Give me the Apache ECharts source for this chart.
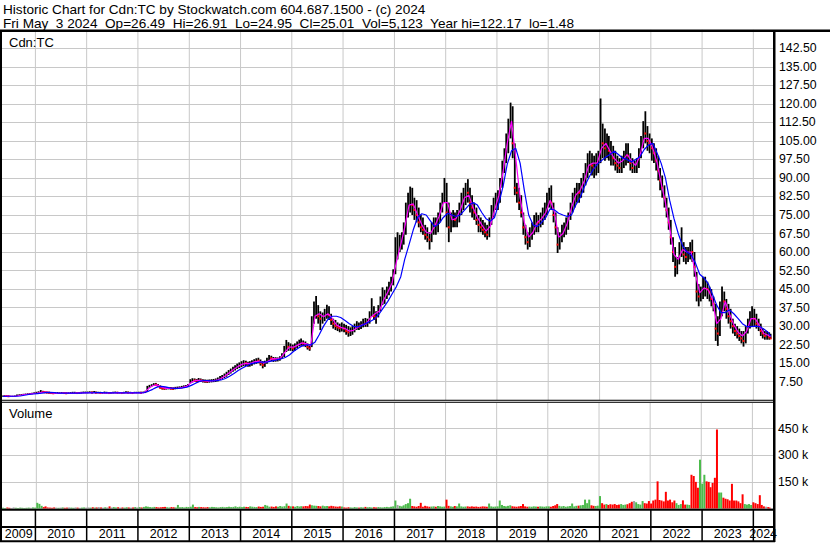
<!DOCTYPE html>
<html><head><meta charset="utf-8">
<script src="https://cdn.jsdelivr.net/npm/echarts@6/dist/echarts.min.js"></script>
<style>html,body{margin:0;padding:0;background:#fff}#c{width:830px;height:543px}</style>
</head><body><div id="c"></div>
<script>
// ---- Data: half-monthly bars (8th & 23rd of each month, May 2009 .. Apr 2024) + last day 2024-05-03
const priceHigh = [
/*2009*/ 1.9,2.0,2.0,1.9,1.8,1.8,1.9,2.3,2.4,2.5,2.6,2.7,2.8,2.9,3.0,3.2,
/*2010*/ 3.4,3.6,4.1,3.8,3.6,3.5,3.4,3.3,3.3,3.2,3.3,3.2,3.3,3.3,3.2,3.2,3.3,3.4,3.4,3.3,3.3,3.4,3.5,3.5,
/*2011*/ 3.5,3.6,3.5,3.7,3.5,3.4,3.4,3.3,3.5,3.4,3.3,3.3,3.4,3.5,3.4,3.3,3.3,3.4,3.6,3.5,3.4,3.3,3.4,3.4,
/*2012*/ 3.4,3.4,3.5,3.8,5.8,6.2,6.5,6.9,7.0,6.6,6.0,5.5,5.2,5.2,5.3,5.3,5.2,5.4,5.5,5.6,5.8,6.0,6.2,6.6,
/*2013*/ 8.5,8.9,8.8,8.6,9.0,8.8,8.5,8.4,8.3,8.4,8.5,8.6,8.8,9.2,9.8,10.2,10.8,11.5,12.2,12.8,13.5,14.2,14.8,15.3,
/*2014*/ 15.8,16.2,16.0,15.6,15.8,16.2,16.6,17.0,17.2,16.5,15.8,16.0,17.2,18.3,18.0,17.5,17.4,17.3,17.8,19.0,22.0,24.4,23.5,23.0,
/*2015*/ 22.5,23.0,23.8,24.5,25.0,24.2,23.8,23.0,22.5,34.0,40.0,42.2,38.5,36.0,35.5,37.0,38.6,38.0,35.0,33.0,32.5,31.5,31.0,31.5,
/*2016*/ 31.0,30.5,30.0,29.5,30.0,31.0,32.0,31.5,32.0,33.0,33.3,33.0,36.0,41.3,38.0,36.0,38.5,42.0,45.7,44.6,46.0,48.0,50.0,53.0,
/*2017*/ 66,68,67,68,72,80,84,86.5,86,82,81,78,75,74,71,70,68,72,74,74,76,80,84,90,
/*2018*/ 88,80,76,77,76,77,80,84,86,88,89.5,86,83,80,78,75,74,73,72,71,74,79,82,84,
/*2019*/ 85,90,97,102,108,114,120.5,119,104,88,86,83,76,71,68,70,72,75,76,75,76,78,80,84,
/*2020*/ 86,87,80,76,70,68,71,72,74,76,80,84,86,88,88,90,92,96,100,101,100,99,100,101,
/*2021*/ 122.17,112,110,108,107,105,103,101,99,98,99,101,104,104,100,98,97,98,102,107,113,117,111,108,
/*2022*/ 106,104,102,99,94,91,87,82,78,73,66,62,58,64,70,64,62,62,64,65,60,52,47,46,
/*2023*/ 50,50,48,46,45,42,39,34,40,46,44,41,39,37,33,31,30,29,28,28,30,33,36,38,
/*2024*/ 37,35,33,31,29,28,28,27.5, 26.91
];
const priceLow = [
/*2009*/ 1.5,1.5,1.5,1.5,1.5,1.48,1.5,1.7,1.9,2.0,2.1,2.2,2.2,2.3,2.4,2.5,
/*2010*/ 2.6,2.8,3.0,3.0,2.9,2.8,2.7,2.6,2.5,2.5,2.6,2.6,2.7,2.6,2.5,2.5,2.6,2.7,2.7,2.6,2.6,2.7,2.8,2.8,
/*2011*/ 2.8,2.9,2.8,2.9,2.8,2.7,2.6,2.6,2.7,2.7,2.6,2.6,2.7,2.8,2.8,2.7,2.7,2.7,2.8,2.8,2.7,2.7,2.8,2.8,
/*2012*/ 2.8,2.8,2.9,2.9,3.4,5.0,5.5,5.8,5.9,5.5,4.8,4.3,4.2,4.3,4.4,4.3,4.2,4.4,4.5,4.6,4.8,5.0,5.2,5.4,
/*2013*/ 6.8,7.2,7.4,7.3,7.4,7.4,7.2,7.1,7.0,7.1,7.2,7.3,7.4,7.6,8.2,8.6,9.0,9.5,10.2,10.8,11.5,12.0,12.6,13.0,
/*2014*/ 13.4,13.8,13.8,13.5,13.6,14.0,14.5,14.8,15.0,14.0,12.9,13.5,14.8,15.8,15.8,15.5,15.6,15.7,16.0,16.8,17.5,19.5,20.0,20.0,
/*2015*/ 19.8,20.0,21.0,21.8,22.0,21.8,21.5,20.5,20.0,21.5,31.0,33.0,31.0,28.4,31.0,32.0,33.0,32.5,30.5,29.0,28.4,28.0,27.5,27.8,
/*2016*/ 27.5,26.5,25.7,26.0,26.5,27.5,28.5,28.4,28.8,29.5,29.7,29.7,31.0,33.8,32.5,31.0,33.5,36.0,38.5,39.0,41.0,42.5,44.0,46.5,
/*2017*/ 51,57,60,61,63,67,74,76,75,73,72,70,68,67,65,64,61,64,67,67,68,72,76,80,
/*2018*/ 70,64,68,70,70,70,72,75,77,79,80,76,74,73,71,68,68,67,66,65,66,71,74,77,
/*2019*/ 77,80,86,92,96,100,106,98,83,80,77,74,67,63,61,62,65,67,68,68,70,71,73,75,
/*2020*/ 78,77,72,67,59.6,61,64,66,67,69,73,76,78,80,80,82,84,87,90,92,91,90,91,92,
/*2021*/ 96,98,97,98,97,95,95,93,92,92,92,94,95,96,93,92,92,92,94,98,102,104,101,100,
/*2022*/ 97,96,93,89,85,82,78,74,69,63,56,50,51,55,58,56,55,56,57,56,50,40,38,40,
/*2023*/ 41,42,41,40,38,36,24,22,26,34,36,33,31,29,27,26,25,24,23,21.7,23,27,29,30,
/*2024*/ 30,29,28,26,25,24.5,24.5,24.5, 24.95
];
const priceClose = [
/*2009*/ 1.6,1.8,1.7,1.6,1.6,1.6,1.7,2.1,2.2,2.3,2.4,2.5,2.6,2.6,2.7,2.9,
/*2010*/ 3.0,3.2,3.5,3.3,3.2,3.1,3.0,2.9,2.8,2.8,2.9,2.9,3.0,2.9,2.8,2.8,2.9,3.0,3.0,2.9,2.9,3.0,3.1,3.1,
/*2011*/ 3.1,3.2,3.1,3.2,3.0,3.0,2.9,2.9,3.0,3.0,2.9,2.9,3.0,3.1,3.0,3.0,2.9,3.0,3.1,3.0,3.0,2.9,3.0,3.0,
/*2012*/ 3.1,3.0,3.1,3.4,5.4,5.8,6.0,6.4,6.3,5.8,5.0,4.8,4.7,4.8,4.9,4.7,4.6,4.9,5.0,5.1,5.3,5.6,5.8,6.1,
/*2013*/ 7.8,8.2,8.0,7.9,8.2,8.0,7.8,7.7,7.6,7.8,7.9,8.0,8.1,8.6,9.2,9.6,10.1,10.8,11.6,12.2,12.8,13.5,14.0,14.4,
/*2014*/ 14.8,15.2,15.0,14.6,14.8,15.4,15.8,16.2,16.0,15.0,14.2,15.2,16.5,17.3,17.0,16.6,16.5,16.8,17.2,18.2,20.5,22.2,21.6,21.8,
/*2015*/ 21.0,21.8,22.6,23.4,23.6,23.0,22.5,21.5,21.0,32.0,36.5,37.0,34.0,33.0,33.5,35.0,36.0,34.5,32.5,31.0,30.0,29.5,29.2,29.6,
/*2016*/ 29.0,28.0,27.5,27.8,28.5,29.5,30.0,29.8,30.5,31.5,31.0,31.5,34.5,37.0,34.0,33.5,36.5,40.0,42.0,42.5,44.0,46.0,48.0,51.0,
/*2017*/ 62,62,64,65,70,78,80,82,79,77,75,72,70,69,67,66,65,70,72,71,74,78,82,86,
/*2018*/ 76,70,72,74,73,75,78,81,84,85,84,80,78,76,73,71,70,69,68,67,70,76,79,80,
/*2019*/ 82,88,94,99,104,112,116,104,86,84,80,76,70,66,64,67,70,72,73,72,74,75,77,80,
/*2020*/ 83,80,75,70,63,65,68,70,71,74,78,81,83,85,84,86,89,92,96,97,95,94,96,97,
/*2021*/ 108,104,102,104,101,100,98,96,95,94,96,98,100,99,96,94,94,95,99,104,110,108,105,104,
/*2022*/ 102,100,97,93,89,86,82,77,72,66,60,54,56,60,62,59,58,60,62,60,54,44,42,43,
/*2023*/ 46,47,45,44,41,39,29,27,35,41,40,37,34,32,30,28,27,26,25,24,27,30,33,34,
/*2024*/ 33,31,30,28,27,26,26,25.5, 25.01
];
// volume in thousands of shares
const volumeK = [
/*2009*/ 4,3,5,4,3,6,4,3,5,4,3,4,5,4,6,5,
/*2010*/ 32,26,15,8,12,6,5,4,6,5,4,5,6,4,5,6,5,4,6,5,4,5,6,5,
/*2011*/ 6,5,7,5,6,8,6,5,7,6,12,6,8,6,7,5,6,5,7,6,5,6,8,6,
/*2012*/ 8,6,9,12,10,8,7,9,8,6,7,8,9,7,6,8,7,6,20,7,8,6,9,8,
/*2013*/ 10,22,8,7,9,8,7,6,8,7,9,8,7,6,8,9,7,8,10,8,9,12,8,10,
/*2014*/ 8,10,9,8,12,10,9,8,11,9,10,20,16,10,11,9,12,10,14,11,13,28,15,12,
/*2015*/ 12,10,14,11,13,12,14,13,22,18,16,15,14,12,16,13,14,12,15,13,11,10,12,11,
/*2016*/ 6,5,7,6,5,8,6,5,7,6,9,7,8,6,7,6,8,7,6,8,9,7,10,12,
/*2017*/ 45,20,15,12,18,25,30,55,14,12,10,14,32,10,15,12,10,11,12,10,14,12,10,11,
/*2018*/ 50,15,12,10,14,12,28,12,10,11,12,10,12,10,11,9,10,12,11,10,28,12,10,11,
/*2019*/ 12,45,20,14,12,15,18,12,11,10,12,14,25,12,10,11,10,12,11,10,12,11,10,12,
/*2020*/ 12,10,14,18,25,15,12,14,10,12,14,28,12,15,16,18,20,50,30,50,18,15,14,16,
/*2021*/ 70,30,22,25,20,24,22,25,20,22,25,20,22,24,30,38,42,35,25,22,42,30,28,42,
/*2022*/ 28,45,50,153,48,45,40,94,45,50,35,45,30,20,25,46,22,22,20,190,183,150,117,275,
/*2023*/ 140,190,153,150,120,144,173,445,90,90,61,55,52,45,139,45,45,40,30,80,25,22,25,20,
/*2024*/ 35,30,25,75,20,12,10,8, 5.123
];
// moving averages, monthly readings (15th of each month, May 2009 .. Apr 2024) + 2024-05-03
const maShort = [
/*2009*/ 1.6,1.7,1.6,1.6,2.0,2.3,2.5,2.7,
/*2010*/ 2.9,3.2,3.3,3.1,2.9,2.8,2.9,2.9,2.8,2.9,3.0,3.0,
/*2011*/ 3.1,3.1,3.1,3.0,2.9,3.0,2.95,3.05,3.0,2.95,3.05,3.0,
/*2012*/ 3.0,3.1,4.6,5.9,6.2,5.4,4.8,4.8,4.8,4.9,5.2,5.7,
/*2013*/ 7.2,8.0,8.0,7.9,7.7,7.8,8.1,8.8,9.9,11.2,12.5,13.7,
/*2014*/ 14.6,14.9,14.9,15.6,15.8,15.0,15.8,16.8,16.7,17.2,19.6,21.5,
/*2015*/ 21.5,22.4,23.2,22.8,22.0,34.0,35.0,33.8,35.0,33.2,30.5,29.5,
/*2016*/ 29.0,28.0,28.3,29.5,30.5,31.0,33.5,35.0,36.0,40.5,43.8,47.5,
/*2017*/ 56,63,70,79,79.5,75,71,68,67.5,70.5,74.5,80,
/*2018*/ 80,73,73.5,77,82,83,78,74,71,68.5,70.5,77,
/*2019*/ 83,93,104,113,98,82,72,66,68,72,73.5,76,
/*2020*/ 81,76,66,67.5,71.5,78,83,85,89,95,96,96,
/*2021*/ 102,104,101,98,96,97,99.5,97,95,99,106,106,
/*2022*/ 102,96,88,80,70,59,57,61,60,60,51,43.5,
/*2023*/ 45.5,44.5,41,31,33,40,35,30.5,27.5,26,28,33,
/*2024*/ 33,30,27,26.3, 25.7
];
const maLong = [
/*2009*/ 1.5,1.6,1.6,1.6,1.7,2.0,2.3,2.5,
/*2010*/ 2.7,2.9,3.1,3.2,3.1,2.9,2.9,2.9,2.9,2.9,2.9,3.0,
/*2011*/ 3.0,3.0,3.1,3.1,3.0,3.0,3.0,3.0,3.0,3.0,3.0,3.0,
/*2012*/ 3.0,3.1,3.6,4.4,5.3,5.6,5.4,5.0,4.8,4.8,5.0,5.3,
/*2013*/ 6.0,6.9,7.6,7.9,7.9,7.8,7.9,8.2,8.8,9.7,10.8,12.0,
/*2014*/ 13.0,14.0,14.7,15.1,15.4,15.4,15.5,15.9,16.3,16.7,17.3,18.3,
/*2015*/ 19.8,21.0,22.0,22.4,22.4,23.5,26.5,30.0,32.7,34.0,34.0,33.5,
/*2016*/ 32.3,31.0,29.9,29.7,30.3,31.2,32.0,33.0,35.0,37.5,40.0,43.0,
/*2017*/ 46,50,57,63,69,74,75.5,75,72.5,70.3,71.5,74,
/*2018*/ 75.7,75,74.4,75,77,79,80,79,76,73.5,72.5,74,
/*2019*/ 79.8,87,95.5,101,102,96,85,75,71,70.3,72,74,
/*2020*/ 77.5,77,75.7,75,74.4,75,79,82,86.5,90,93.3,95.5,
/*2021*/ 97,98.5,99.5,100.8,99.5,98,97.5,96.5,97.5,98.6,101.5,103.3,
/*2022*/ 104,100,96,90,81,73.5,67.5,62.5,60,58.8,55.5,51,
/*2023*/ 49.5,47,43,38.5,35.5,35.5,36.5,35,33,31,29.8,29.8,
/*2024*/ 30,29.8,28.8,27.5, 26.0
];
const yearLabels = ['2009','2010','2011','2012','2013','2014','2015','2016','2017','2018','2019','2020','2021','2022','2023','2024'];
const priceTicks = {min:0, max:150, step:7.5};
const volumeTicks = {min:0, max:600, step:150};
const lastDay = '2024-05-03';
const titleLine1 = 'Historic Chart for Cdn:TC by Stockwatch.com 604.687.1500 - (c) 2024';
const titleLine2 = 'Fri May  3 2024  Op=26.49  Hi=26.91  Lo=24.95  Cl=25.01  Vol=5,123  Year hi=122.17  lo=1.48';

// ---- date helpers
function pad(n){return (n<10?'0':'')+n;}
function halfMonthDates(n){const out=[];let y=2009,m=5,h=0;for(let i=0;i<n;i++){out.push(y+'-'+pad(m)+'-'+(h?'23':'08'));if(h){h=0;m++;if(m>12){m=1;y++;}}else h=1;}return out;}
function monthDates(n){const out=[];let y=2009,m=5;for(let i=0;i<n;i++){out.push(y+'-'+pad(m)+'-15');m++;if(m>12){m=1;y++;}}return out;}
const barDates = halfMonthDates(360).concat([lastDay]);
const maDates = monthDates(180).concat([lastDay]);
const yearSpans = yearLabels.map(y=>[y+'-01-01', (+y+1)+'-01-01']);

const FONT = '"Liberation Sans", Arial, sans-serif';
const GRID_GRAY = '#c8c8c8';
const XMIN = '2009-05-08', XMAX = '2024-05-20';
const sp = s => s.replace(/  /g, '\u00a0 ');

const chart = echarts.init(document.getElementById('c'), null, {renderer:'svg', width:830, height:543});

function xAx(gi){return {gridIndex:gi,type:'time',min:XMIN,max:XMAX,axisLine:{show:false},axisTick:{show:false},axisLabel:{show:false},splitLine:{show:false}};}

function yearLine(params, api){
  const cs = params.coordSys;
  const x = api.coord([api.value(0), 0])[0];
  return {type:'line', shape:{x1:x,y1:cs.y,x2:x,y2:cs.y+cs.height}, style:{stroke:GRID_GRAY,lineWidth:1}};
}

const option = {
  animation:false,
  backgroundColor:'#fff',
  grid:[
    {left:2, top:29.76, width:771, height:370.44, outerBoundsMode:'none', containLabel:false},
    {left:2, top:402, width:771, height:106.5, outerBoundsMode:'none', containLabel:false},
    {left:2, top:509.5, width:771, height:31.5, outerBoundsMode:'none', containLabel:false}
  ],
  xAxis:[xAx(0), xAx(1), xAx(2)],
  yAxis:[
    {gridIndex:0,type:'value',position:'right',min:priceTicks.min,max:priceTicks.max,interval:priceTicks.step,
     axisLine:{show:false},axisTick:{show:false},
     axisLabel:{margin:6,fontSize:12.3,fontFamily:FONT,color:'#000',formatter:v=>(v<1||v>145)?'':v.toFixed(2)},
     splitLine:{lineStyle:{color:GRID_GRAY,width:1}}},
    {gridIndex:1,type:'value',position:'right',min:volumeTicks.min,max:volumeTicks.max,interval:volumeTicks.step,
     axisLine:{show:false},axisTick:{show:false},
     axisLabel:{margin:5,fontSize:12.3,fontFamily:FONT,color:'#000',formatter:v=>(v<1||v>500)?'':(v+' k')},
     splitLine:{lineStyle:{color:GRID_GRAY,width:1}}},
    {gridIndex:2,type:'value',min:0,max:1,show:false}
  ],
  series:[
    {type:'custom',xAxisIndex:0,yAxisIndex:0,z:1,silent:true,
     data:yearSpans.slice(1).map(s=>[s[0]]),encode:{x:0},renderItem:yearLine},
    {type:'custom',xAxisIndex:1,yAxisIndex:1,z:1,silent:true,
     data:yearSpans.slice(1).map(s=>[s[0]]),encode:{x:0},renderItem:yearLine},
    {type:'custom',name:'price',xAxisIndex:0,yAxisIndex:0,z:2,
     data:barDates.map((d,i)=>[d,priceHigh[i],priceLow[i],priceClose[i]]),
     encode:{x:0,y:[1,2,3]},
     renderItem:(params,api)=>{
       const i=params.dataIndex;
       const t=api.value(0);
       const ph=api.coord([t,api.value(1)]), pl=api.coord([t,api.value(2)]), pc=api.coord([t,api.value(3)]);
       const w=1.8;
       const ch=[{type:'rect',shape:{x:ph[0]-w/2,y:ph[1],width:w,height:Math.max(1.2,pl[1]-ph[1])},style:{fill:'#000'}}];
       if(i>0 && priceClose[i]<priceClose[i-1])
         ch.push({type:'rect',shape:{x:pc[0]-1,y:pc[1]-1,width:2,height:2},style:{fill:'#ff0000'}});
       return {type:'group',children:ch};
     }},
    {type:'line',name:'maShort',xAxisIndex:0,yAxisIndex:0,z:3,symbol:'none',
     data:maDates.map((d,i)=>[d,maShort[i]]),lineStyle:{color:'#ff00ff',width:1.2}},
    {type:'line',name:'maLong',xAxisIndex:0,yAxisIndex:0,z:4,symbol:'none',
     data:maDates.map((d,i)=>[d,maLong[i]]),lineStyle:{color:'#0000ff',width:1.2}},
    {type:'bar',name:'volume',xAxisIndex:1,yAxisIndex:1,z:2,barWidth:2,
     data:barDates.map((d,i)=>[d,volumeK[i]]),
     itemStyle:{color:p=>{const i=p.dataIndex;if(i===0)return '#4cbb4c';
       return priceClose[i]<priceClose[i-1]?'#ff0000':(priceClose[i]>priceClose[i-1]?'#4cbb4c':'#a0a0a0');}}},
    {type:'custom',xAxisIndex:2,yAxisIndex:2,z:5,clip:false,silent:true,
     data:yearSpans,encode:{x:[0,1]},
     renderItem:(params,api)=>{
       const cs=params.coordSys;
       const x0=api.coord([api.value(0),0])[0], x1=api.coord([api.value(1),0])[0];
       const L=cs.x, R=cs.x+cs.width;
       const a=Math.max(x0,L), b=Math.min(x1,R);
       const ch=[];
       if(x0>L+0.5) ch.push({type:'line',shape:{x1:x0,y1:cs.y,x2:x0,y2:cs.y+cs.height},style:{stroke:'#000',lineWidth:1.5}});
       ch.push({type:'text',x:(a+b)/2,y:534.3,style:{text:yearLabels[params.dataIndex],align:'center',verticalAlign:'middle',font:'12.5px '+FONT,fill:'#000'}});
       return {type:'group',children:ch};
     }}
  ],
  graphic:[
    {type:'text',x:3,y:9.3,z:100,style:{text:titleLine1,font:'13.6px '+FONT,fill:'#000',verticalAlign:'middle'}},
    {type:'text',x:3,y:23.4,z:100,style:{text:sp(titleLine2),font:'13.6px '+FONT,fill:'#000',verticalAlign:'middle'}},
    {type:'text',x:9,y:42,z:100,style:{text:'Cdn:TC',font:'13px '+FONT,fill:'#000',verticalAlign:'middle'}},
    {type:'text',x:9,y:413,z:100,style:{text:'Volume',font:'13px '+FONT,fill:'#000',verticalAlign:'middle'}},
    {type:'rect',z:100,shape:{x:0,y:29.5,width:830,height:2.5},style:{fill:'#000'}},
    {type:'rect',z:100,shape:{x:0,y:30,width:2,height:512},style:{fill:'#000'}},
    {type:'rect',z:100,shape:{x:773,y:30,width:2.5,height:512},style:{fill:'#000'}},
    {type:'rect',z:100,shape:{x:0,y:399.7,width:773,height:1},style:{fill:'#000'}},
    {type:'rect',z:100,shape:{x:0,y:401.7,width:773,height:1},style:{fill:'#000'}},
    {type:'rect',z:100,shape:{x:0,y:508.7,width:775,height:2},style:{fill:'#000'}},
    {type:'rect',z:100,shape:{x:0,y:526,width:775,height:2},style:{fill:'#000'}},
    {type:'rect',z:100,shape:{x:0,y:540.3,width:775,height:2},style:{fill:'#000'}}
  ]
};
chart.setOption(option);
</script>
</body></html>
